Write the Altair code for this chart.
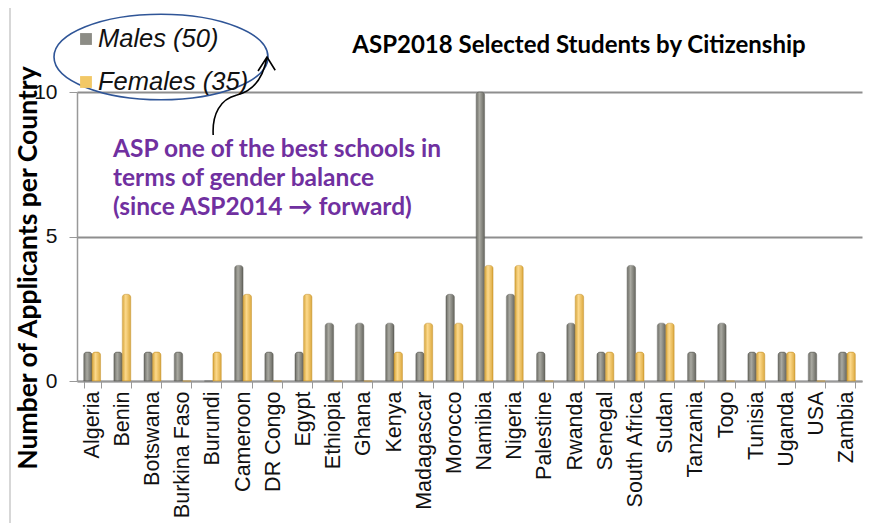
import altair as alt
import pandas as pd

countries = ["Algeria", "Benin", "Botswana", "Burkina Faso", "Burundi", "Cameroon",
             "DR Congo", "Egypt", "Ethiopia", "Ghana", "Kenya", "Madagascar", "Morocco",
             "Namibia", "Nigeria", "Palestine", "Rwanda", "Senegal", "South Africa",
             "Sudan", "Tanzania", "Togo", "Tunisia", "Uganda", "USA", "Zambia"]
males = [1, 1, 1, 1, 0, 4, 1, 1, 2, 2, 2, 1, 3, 10, 3, 1, 2, 1, 4, 2, 1, 2, 1, 1, 1, 1]
females = [1, 3, 1, 0, 1, 3, 0, 3, 0, 0, 1, 2, 2, 4, 4, 0, 3, 1, 1, 2, 0, 0, 1, 1, 0, 1]
series = ["Males", "Females"]
legend_labels = ["Males (50)", "Females (35)"]
title_text = "ASP2018 Selected Students by Citizenship"
y_title = "Number of Applicants per Country"
note_lines = ["ASP one of the best schools in", "terms of gender balance",
              "(since ASP2014 \u2192 forward)"]

rows = []
for c, m, f in zip(countries, males, females):
    rows.append({"country": c, "gender": "Males", "count": m})
    rows.append({"country": c, "gender": "Females", "count": f})
df = pd.DataFrame(rows)

gray_grad = {"gradient": "linear", "x1": 0, "x2": 1, "y1": 0, "y2": 0,
             "stops": [{"offset": 0, "color": "#6c6c65"},
                       {"offset": 0.4, "color": "#a9a9a1"},
                       {"offset": 1, "color": "#66665f"}]}
gold_grad = {"gradient": "linear", "x1": 0, "x2": 1, "y1": 0, "y2": 0,
             "stops": [{"offset": 0, "color": "#d6a53a"},
                       {"offset": 0.4, "color": "#fcd98c"},
                       {"offset": 1, "color": "#dca93e"}]}

x_enc = alt.X("country:N", sort=countries, title=None,
              scale=alt.Scale(paddingInner=0.44, paddingOuter=0.22),
              axis=alt.Axis(labelAngle=-90, labelFont="Liberation Sans", labelFontSize=21.5,
                            labelColor="#111", labelPadding=3, tickSize=7, tickColor="#999",
                            tickBand="extent", domainColor="#999", domainWidth=1.5,
                            labelLimit=300))
xo_enc = alt.XOffset("gender:N", scale=alt.Scale(domain=series))
y_enc = alt.Y("count:Q", title=None, scale=alt.Scale(domain=[0, 10]),
              axis=alt.Axis(values=[0, 5, 10], labelFont="Liberation Sans", labelFontSize=21,
                            labelColor="#111", labelPadding=12, tickSize=8, tickColor="#999",
                            domainColor="#999", domainWidth=1.5, gridColor="#8e8e8e",
                            gridWidth=1.8))

base = alt.Chart(df)
male_bars = base.transform_filter(alt.datum.gender == "Males").mark_bar(
    fill=gray_grad, stroke="#5e5e58", strokeWidth=0.5,
    cornerRadiusTopLeft=3, cornerRadiusTopRight=3).encode(x=x_enc, xOffset=xo_enc, y=y_enc)
female_bars = base.transform_filter(alt.datum.gender == "Females").mark_bar(
    fill=gold_grad, stroke="#c8952c", strokeWidth=0.5,
    cornerRadiusTopLeft=3, cornerRadiusTopRight=3).encode(x=x_enc, xOffset=xo_enc, y=y_enc)

one = pd.DataFrame({"a": [0]})

frame = alt.Chart(one).mark_rect(fill="transparent", stroke="#bdbdbd", strokeWidth=1.2).encode(
    x=alt.value(-67), y=alt.value(-86), x2=alt.value(900), y2=alt.value(600))

title = alt.Chart(one).mark_text(text=title_text, font="Lato", fontWeight="bold", fontSize=24,
                                 color="#000", align="center", baseline="alphabetic").encode(
    x=alt.value(502), y=alt.value(-39))

ytitle = alt.Chart(one).mark_text(text=y_title, font="Lato", fontWeight="bold", fontSize=26.5,
                                  color="#000", align="center", baseline="middle", angle=270).encode(
    x=alt.value(-48), y=alt.value(176))

leg_sq = alt.Chart(pd.DataFrame({"g": series, "yy": [-53, -10]})).mark_square(
    size=140, opacity=1).encode(
    x=alt.value(9), y=alt.Y("yy:Q", scale=None),
    color=alt.Color("g:N", scale=alt.Scale(domain=series, range=["#8c8c85", "#f2c866"]), legend=None))
leg_txt = alt.Chart(pd.DataFrame({"t": legend_labels, "yy": [-45, -2]})).mark_text(
    font="Liberation Sans", fontStyle="italic", fontSize=25.5, color="#111",
    align="left", baseline="alphabetic").encode(
    x=alt.value(21), y=alt.Y("yy:Q", scale=None), text="t:N")

ellipse = alt.Chart(one).mark_point(
    shape="M -1 0 A 1 0.4 0 1 1 1 0 A 1 0.4 0 1 1 -1 0 Z", size=45796, filled=False,
    stroke="#2f5597", strokeWidth=1.6, opacity=1).encode(x=alt.value(84), y=alt.value(-35))

arrow = alt.Chart(one).mark_point(
    shape="M -0.79 1 C -0.82 0.45 -0.6 0.08 -0.2 -0.02 C 0.25 -0.12 0.5 -0.5 0.59 -1 "
          "M 0.36 -0.64 L 0.59 -1 L 0.8 -0.66",
    size=6084, filled=False, stroke="#000", strokeWidth=1.6, opacity=1).encode(
    x=alt.value(167), y=alt.value(4))

note = alt.Chart(one).mark_text(text=note_lines, font="Lato", fontWeight="bold", fontSize=24.5,
                                color="#7030a0", align="left", baseline="alphabetic",
                                lineHeight=29).encode(x=alt.value(36), y=alt.value(65))

chart = alt.layer(frame, male_bars, female_bars, title, ytitle, ellipse, leg_sq, leg_txt,
                  arrow, note).properties(
    width=785, height=289,
    autosize=alt.AutoSizeParams(type="none"),
    padding={"left": 69, "top": 84, "right": 8, "bottom": 142},
).configure_view(stroke=None).configure_axis(grid=False).configure_axisY(grid=True)

chart.save("out.html", embed_options={"renderer": "svg", "actions": False})
